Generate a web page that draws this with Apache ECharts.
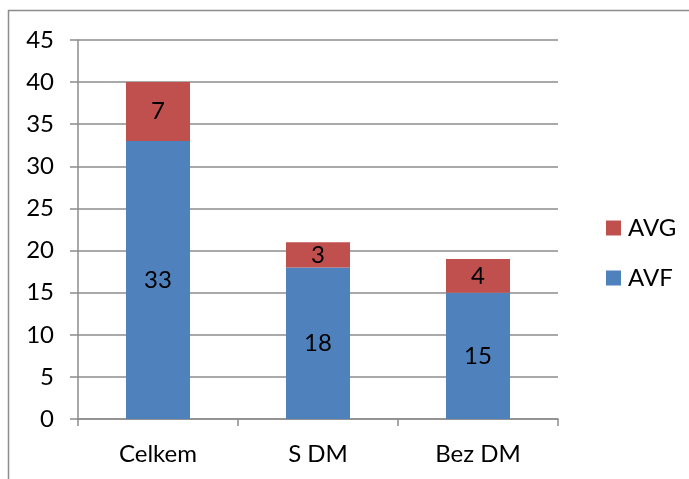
<!DOCTYPE html>
<html>
<head>
<meta charset="utf-8">
<script src="https://cdn.jsdelivr.net/npm/echarts@6/dist/echarts.min.js"></script>
<style>
html, body { margin: 0; padding: 0; background: #fff; }
#chart { width: 689px; height: 479px; }
</style>
</head>
<body>
<div id="chart"></div>
<script>
var categories = ["Celkem", "S DM", "Bez DM"];
var avfValues = [33, 18, 15];
var avgValues = [7, 3, 4];
var yTicks = { min: 0, max: 45, interval: 5 };

var font = "Lato, 'Open Sans', sans-serif";
var fsize = 24;
var chart = echarts.init(document.getElementById("chart"), null, { renderer: "canvas" });

var option = {
	animation: false,
	textStyle: { fontFamily: font },
	graphic: [{
		type: "rect",
		shape: { x: 8.5, y: 10.5, width: 700, height: 500 },
		style: { fill: "none", stroke: "#8c8c8c", lineWidth: 1.5 },
		silent: true
	}],
	grid: { left: 78, right: 131, top: 40, bottom: 60 },
	legend: {
		orient: "vertical",
		left: 601,
		top: 211,
		itemWidth: 15,
		itemHeight: 15,
		itemGap: 26,
		icon: "rect",
		data: ["AVG", "AVF"],
		textStyle: { fontFamily: font, fontSize: fsize, color: "#000", padding: [0, 0, 0, 2] }
	},
	xAxis: {
		type: "category",
		data: categories,
		axisLine: { lineStyle: { color: "#8c8c8c", width: 1.5 } },
		axisTick: { show: true, length: 7, lineStyle: { color: "#8c8c8c", width: 1.5 } },
		axisLabel: { fontFamily: font, fontSize: fsize, color: "#000", margin: 23 }
	},
	yAxis: {
		type: "value",
		min: yTicks.min,
		max: yTicks.max,
		interval: yTicks.interval,
		axisLine: { show: true, lineStyle: { color: "#8c8c8c", width: 1.5 } },
		axisTick: { show: true, length: 8, lineStyle: { color: "#8c8c8c", width: 1.5 } },
		splitLine: { lineStyle: { color: "#8c8c8c", width: 1.5 } },
		axisLabel: { fontFamily: font, fontSize: fsize, color: "#000", margin: 24 }
	},
	series: [{
		name: "AVF",
		type: "bar",
		stack: "total",
		barWidth: "40%",
		data: avfValues,
		itemStyle: { color: "#4f81bd" },
		label: { show: true, position: "inside", fontFamily: font, fontSize: fsize, color: "#000" }
	}, {
		name: "AVG",
		type: "bar",
		stack: "total",
		barWidth: "40%",
		data: avgValues,
		itemStyle: { color: "#c0504d" },
		label: { show: true, position: "inside", fontFamily: font, fontSize: fsize, color: "#000" }
	}]
};

chart.setOption(option);
</script>
</body>
</html>
